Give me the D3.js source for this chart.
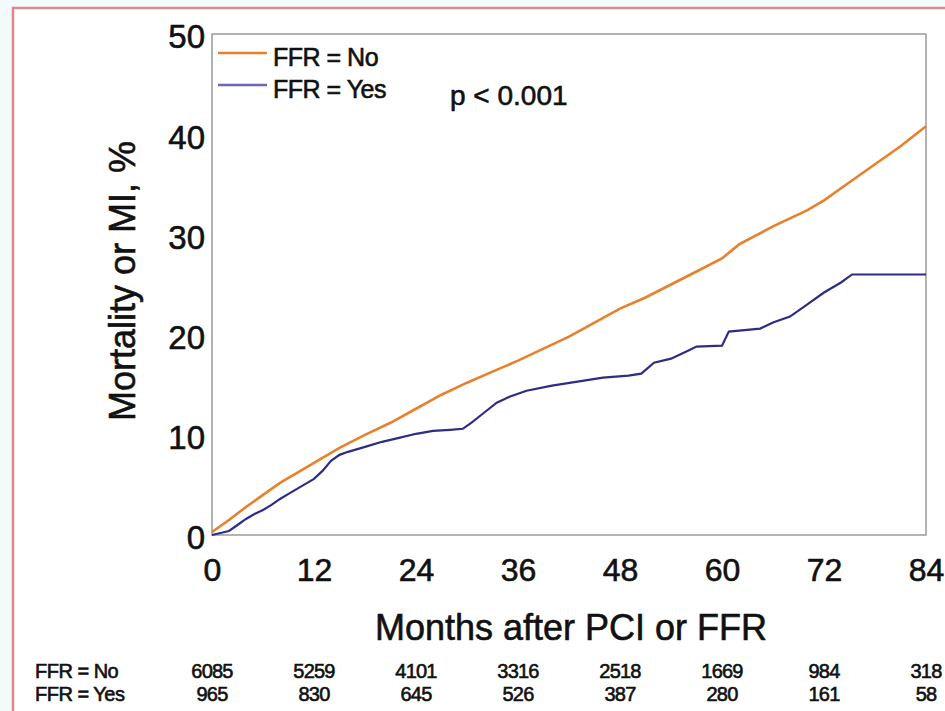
<!DOCTYPE html>
<html>
<head>
<meta charset="utf-8">
<script src="https://cdn.jsdelivr.net/npm/d3@7"></script>
<style>
  body { margin: 0; background: #f3fafa; }
  svg { display: block; font-family: "Liberation Sans", Arial, sans-serif; }
  /* the scanned figure has slightly heavy lettering */
  svg text { stroke: #111; stroke-width: 0.6px; }
</style>
</head>
<body>
<svg id="chart" width="945" height="711"></svg>
<script>
// Cumulative mortality or MI (%)
var monthsNo = [0, 2, 4, 6, 8, 10, 12, 15, 18, 21, 24, 27, 30, 33, 36, 39, 42, 45, 48, 51, 54, 57, 60, 62, 66, 70, 72, 75, 78, 81, 84];
var valuesNo = [0.3, 1.5, 2.8, 4.0, 5.2, 6.2, 7.2, 8.7, 10.0, 11.2, 12.6, 14.0, 15.2, 16.3, 17.4, 18.6, 19.8, 21.2, 22.6, 23.7, 25.0, 26.3, 27.6, 29.0, 30.8, 32.4, 33.4, 35.2, 37.0, 38.8, 40.8];

var monthsYes = [0, 1, 2, 3, 4, 5, 6, 7, 8, 9, 10, 11, 12, 13, 14, 15, 16, 18, 20, 22, 24, 26, 28, 29.5, 30.5, 32, 33.5, 35, 37, 40, 43, 46, 49, 50.5, 52, 54, 56, 57, 60, 60.8, 64.5, 66, 68, 70, 72, 74, 75.3, 84];
var valuesYes = [0, 0.2, 0.4, 1.0, 1.6, 2.1, 2.5, 3.0, 3.6, 4.1, 4.6, 5.1, 5.6, 6.4, 7.4, 8.0, 8.3, 8.8, 9.3, 9.7, 10.1, 10.4, 10.5, 10.6, 11.2, 12.2, 13.2, 13.8, 14.4, 14.9, 15.3, 15.7, 15.9, 16.1, 17.2, 17.6, 18.4, 18.8, 18.9, 20.3, 20.6, 21.2, 21.8, 23.0, 24.2, 25.2, 26.0, 26.0];

var xTicks = [0, 12, 24, 36, 48, 60, 72, 84];
var yTicks = [0, 10, 20, 30, 40, 50];

// Number at risk
var riskLabels = ["FFR = No", "FFR = Yes"];
var riskNo = [6085, 5259, 4101, 3316, 2518, 1669, 984, 318];
var riskYes = [965, 830, 645, 526, 387, 280, 161, 58];

var colorNo = "#e8802c";
var colorYes = "#2e2c85";

var svg = d3.select("#chart");

// outer pink frame
svg.append("rect")
  .attr("x", 13).attr("y", 8)
  .attr("width", 945).attr("height", 720)
  .attr("fill", "#fff")
  .attr("stroke", "#e2868d").attr("stroke-width", 2.5);

// plot box (note: "top" is taken by window.top, so use plotTop)
var plotLeft = 212, plotTop = 34, plotW = 714, plotH = 501;

var x = d3.scaleLinear().domain([0, 84]).range([plotLeft, plotLeft + plotW]);
var y = d3.scaleLinear().domain([0, 50]).range([plotTop + plotH, plotTop]);

// plot frame
svg.append("rect")
  .attr("x", plotLeft).attr("y", plotTop)
  .attr("width", plotW).attr("height", plotH)
  .attr("fill", "none")
  .attr("stroke", "#9a9a9a").attr("stroke-width", 1.5);

// y axis labels
var yAxis = d3.axisLeft(y).tickValues(yTicks).tickSize(0).tickPadding(7);
svg.append("g")
  .attr("transform", "translate(" + plotLeft + ",0)")
  .call(yAxis)
  .call(function (g) { g.select(".domain").remove(); })
  .selectAll("text")
  .attr("font-size", 33)
  .attr("font-family", "Liberation Sans, Arial, sans-serif")
  .attr("fill", "#111")
  .attr("dy", "0.42em");

// x axis labels
var xAxis = d3.axisBottom(x).tickValues(xTicks).tickSize(0).tickPadding(23);
svg.append("g")
  .attr("transform", "translate(0," + (plotTop + plotH) + ")")
  .call(xAxis)
  .call(function (g) { g.select(".domain").remove(); })
  .selectAll("text")
  .attr("font-size", 32)
  .attr("font-family", "Liberation Sans, Arial, sans-serif")
  .attr("fill", "#111");

// axis titles
svg.append("text")
  .attr("transform", "translate(135,281) rotate(-90)")
  .attr("text-anchor", "middle")
  .attr("font-size", 36)
  .attr("fill", "#111")
  .text("Mortality or MI, %");

svg.append("text")
  .attr("x", 571).attr("y", 640)
  .attr("text-anchor", "middle")
  .attr("font-size", 36)
  .attr("fill", "#111")
  .text("Months after PCI or FFR");

// curves
var line = d3.line()
  .x(function (d) { return x(d[0]); })
  .y(function (d) { return y(d[1]); });

svg.append("path")
  .datum(d3.zip(monthsNo, valuesNo))
  .attr("d", line)
  .attr("fill", "none")
  .attr("stroke", colorNo).attr("stroke-width", 2.6);

svg.append("path")
  .datum(d3.zip(monthsYes, valuesYes))
  .attr("d", line)
  .attr("fill", "none")
  .attr("stroke", colorYes).attr("stroke-width", 2.2);

// legend
var legend = [[riskLabels[0], colorNo, 53], [riskLabels[1], "#6a68b0", 85]];
legend.forEach(function (item) {
  svg.append("line")
    .attr("x1", 218).attr("x2", 267)
    .attr("y1", item[2]).attr("y2", item[2])
    .attr("stroke", item[1]).attr("stroke-width", 2.5);
  svg.append("text")
    .attr("x", 273).attr("y", item[2] + 13)
    .attr("font-size", 25)
    .attr("letter-spacing", -0.5)
    .attr("fill", "#111")
    .text(item[0]);
});

svg.append("text")
  .attr("x", 450).attr("y", 105)
  .attr("font-size", 28)
  .attr("fill", "#111")
  .text("p < 0.001");

// number at risk table
var rows = [[riskLabels[0], riskNo, 678], [riskLabels[1], riskYes, 701]];
rows.forEach(function (row) {
  svg.append("text")
    .attr("x", 35).attr("y", row[2])
    .attr("font-size", 20)
    .attr("letter-spacing", -0.5)
    .attr("fill", "#111")
    .text(row[0]);
  svg.append("g").selectAll("text")
    .data(row[1])
    .join("text")
    .attr("x", function (d, i) { return x(xTicks[i]); })
    .attr("y", row[2])
    .attr("text-anchor", "middle")
    .attr("font-size", 20)
    .attr("letter-spacing", -0.8)
    .attr("fill", "#111")
    .text(function (d) { return d; });
});
</script>
</body>
</html>
